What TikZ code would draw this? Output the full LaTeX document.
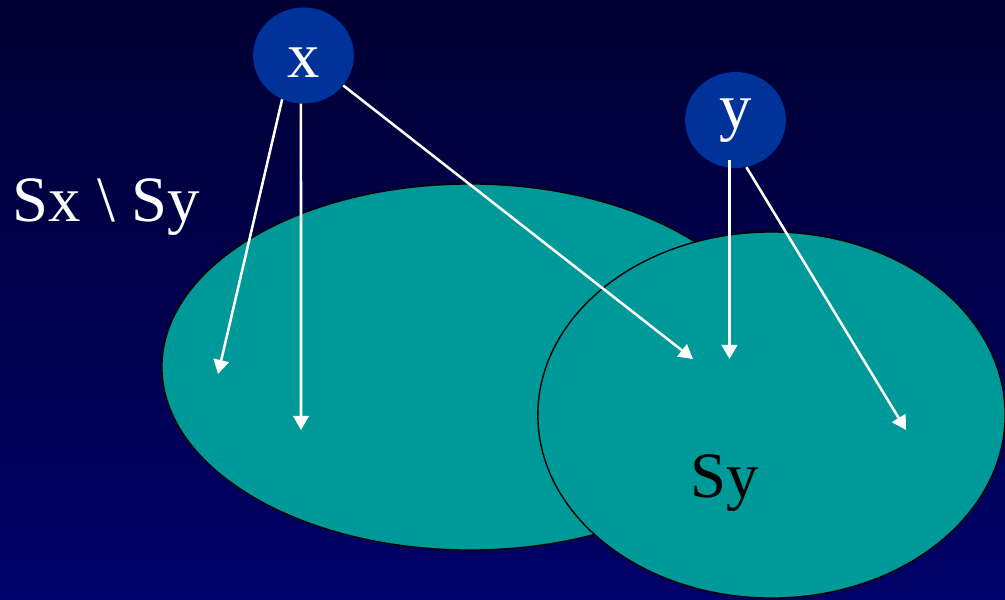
\documentclass[tikz,border=0pt]{standalone}
\usepackage{fontspec}
\setmainfont{Liberation Serif}
\usetikzlibrary{arrows.meta,shapes.geometric}

\definecolor{bgtop}{RGB}{0,0,51}
\definecolor{bgbot}{RGB}{0,0,104}
\definecolor{setteal}{RGB}{0,153,153}
\definecolor{elemblue}{RGB}{0,51,153}

\begin{document}
\begin{tikzpicture}[
  x=0.025cm, y=-0.025cm,
  big/.style={font=\fontsize{46}{50}\selectfont},
  set/.style={ellipse, draw=black, line width=1pt, fill=setteal, inner sep=0pt, minimum height=9.15cm},
  elem/.style={ellipse, fill=elemblue, inner sep=0pt, minimum width=2.52cm, minimum height=2.4cm, text=white, big},
  arrow/.style={-{Triangle[length=10pt,width=11pt]}, line width=1.8pt, draw=white},
  lbl/.style={big, anchor=base, inner sep=0pt}
]

\useasboundingbox (0,0) rectangle (1005,599);
\shade[top color=bgtop, bottom color=bgbot] (0,0) rectangle (1005,599);
\clip (0,0) rectangle (1005,599);

% the two sets
\node[set, minimum width=15.4cm] (sx) at (470,367) {};
\node[set, minimum width=11.68cm] (sy) at (771.5,415) {};

\node[lbl, text=white] (diff) at (106,221) {Sx \textbackslash\ Sy};
\node[lbl, text=black] (sylab) at (725,497) {Sy};

% the two elements
\node[elem, text height=30.6pt, text depth=0pt] (x) at (303.5,55.5) {x};
\node[elem, text height=20.6pt, text depth=8pt] (y) at (735.5,120) {y};

% arrow ends
\coordinate (xa) at (218,374);
\coordinate (xb) at (301,430);
\coordinate (xc) at (693,359);
\coordinate (ya) at (729.5,359);
\coordinate (yb) at (906,430);

\draw[arrow] (x.-116) -- (xa);
\draw[arrow] (x.-93) -- (xb);
\draw[arrow] (x.-37) -- (xc);
\draw[arrow] ([shift={(-6,40)}]y.center) -- (ya);
\draw[arrow] (y.-77) -- (yb);

\end{tikzpicture}
\end{document}
